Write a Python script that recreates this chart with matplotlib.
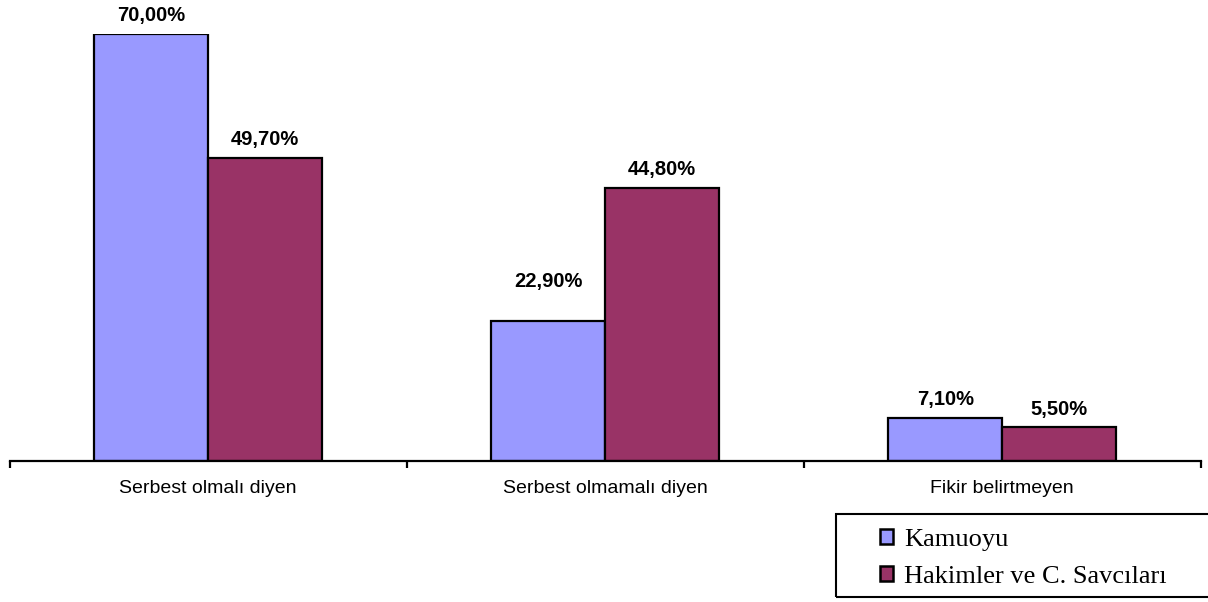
import matplotlib.pyplot as plt
import numpy as np
from matplotlib.patches import Rectangle

# data
categories = ['Serbest olmalı diyen', 'Serbest olmamalı diyen', 'Fikir belirtmeyen']
kamuoyu = [70.0, 22.9, 7.1]
hakimler = [49.7, 44.8, 5.5]
series_names = ['Kamuoyu', 'Hakimler ve C. Savcıları']
label_kamuoyu = ['70,00%', '22,90%', '7,10%']
label_hakimler = ['49,70%', '44,80%', '5,50%']

W, H = 1208, 602
fig = plt.figure(figsize=(W / 100, H / 100), dpi=100)
ax = fig.add_axes([9.5 / W, (H - 461) / H, 1191 / W, 427 / H])

x = np.arange(len(categories))
bw = 0.286
b1 = ax.bar(x - bw / 2, kamuoyu, bw, color='#9999FF', edgecolor='black', linewidth=1.6, label=series_names[0])
b2 = ax.bar(x + bw / 2, hakimler, bw, color='#993366', edgecolor='black', linewidth=1.6, label=series_names[1])

# value labels (the 22,90% one sits higher in the original)
offs1 = [13, 29, 13]
offs2 = [13, 13, 13]
for rect, txt, o in zip(b1, label_kamuoyu, offs1):
    ax.annotate(txt, (rect.get_x() + rect.get_width() / 2, rect.get_height()),
                xytext=(0, o), textcoords='offset points', ha='center', va='center',
                fontsize=14.5, fontweight='bold', family='Liberation Sans', annotation_clip=False)
for rect, txt, o in zip(b2, label_hakimler, offs2):
    ax.annotate(txt, (rect.get_x() + rect.get_width() / 2, rect.get_height()),
                xytext=(0, o), textcoords='offset points', ha='center', va='center',
                fontsize=14.5, fontweight='bold', family='Liberation Sans', annotation_clip=False)

ax.set_xlim(-0.5, len(categories) - 0.5)
ax.set_ylim(0, 70)
for s in ['top', 'right', 'left']:
    ax.spines[s].set_visible(False)
ax.spines['bottom'].set_linewidth(1.6)
ax.set_yticks([])

ax.set_xticks(np.arange(len(categories) + 1) - 0.5)
ax.set_xticklabels([])
ax.tick_params(axis='x', which='major', length=5, width=1.6, direction='out')
ax.set_xticks(x, minor=True)
ax.set_xticklabels(categories, minor=True, fontsize=14, family='Liberation Sans')
ax.tick_params(axis='x', which='minor', length=0, pad=14)

# legend: box drawn separately, it runs past the right edge
fig.add_artist(Rectangle((836 / W, (H - 597) / H), 400 / W, 83 / H, transform=fig.transFigure,
                         fill=False, edgecolor='black', linewidth=1.5, clip_on=False))
leg = fig.legend(handles=[b1, b2], loc='upper left', bbox_to_anchor=(880 / W, (H - 529) / H),
                 frameon=False, borderpad=0, borderaxespad=0, prop={'family': 'Liberation Serif', 'size': 19},
                 handlelength=0.5, handleheight=0.5, handletextpad=0.4, labelspacing=0.58)
for p in leg.get_patches():
    p.set_linewidth(1.8)

fig.savefig('out.png', dpi=100)
